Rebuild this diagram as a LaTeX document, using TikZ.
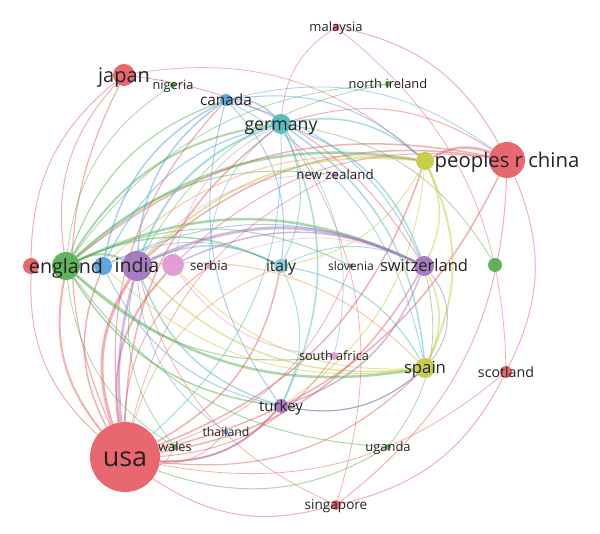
\documentclass[tikz,border=0pt]{standalone}
\usepackage{fontspec}
\setmainfont{Open Sans}
\usetikzlibrary{backgrounds}
\definecolor{vred}{RGB}{231,88,96}
\definecolor{vgreen}{RGB}{79,172,76}
\definecolor{vblue}{RGB}{79,155,218}
\definecolor{vcyan}{RGB}{77,184,186}
\definecolor{vlcyan}{RGB}{128,200,214}
\definecolor{vpurple}{RGB}{158,110,186}
\definecolor{vyellow}{RGB}{196,200,56}
\definecolor{vpink}{RGB}{222,148,208}
\definecolor{vorange}{RGB}{236,150,80}
\definecolor{vtext}{RGB}{35,35,35}
\newcommand\fs[1]{\fontsize{#1}{#1}\selectfont}

\begin{document}
\begin{tikzpicture}[
  x=1pt, y=1pt,
  dot/.style={circle, inner sep=0pt, minimum size=#1, fill opacity=0.9},
  lbl/.style={text=vtext, inner sep=0pt, anchor=base},
  lnk/.style={bend left=25, draw opacity=0.48}
]
  \useasboundingbox (0,0) rectangle (600,534);

  % items
  \node[dot=70pt, fill=vred]     (usa)         at (125,77)  {};
  \node[dot=22pt, fill=vred]     (japan)       at (124,459) {};
  \node[dot=6pt,  fill=vgreen]   (nigeria)     at (173,449) {};
  \node[dot=12pt, fill=vblue]    (canada)      at (226,434) {};
  \node[dot=20pt, fill=vcyan]    (germany)     at (281,410) {};
  \node[dot=7pt,  fill=vred]     (malaysia)    at (336,507) {};
  \node[dot=6pt,  fill=vgreen]   (nireland)    at (388,450) {};
  \node[dot=18pt, fill=vyellow]  (chinay)      at (425,373) {};
  \node[dot=36pt, fill=vred]     (china)       at (507,374) {};
  \node[dot=7pt,  fill=vpink]    (newzealand)  at (335,359) {};
  \node[dot=16pt, fill=vred]     (redl)        at (31,268)  {};
  \node[dot=28pt, fill=vgreen]   (england)     at (66,268)  {};
  \node[dot=18pt, fill=vblue]    (bluee)       at (103,268) {};
  \node[dot=30pt, fill=vpurple]  (india)       at (137,268) {};
  \node[dot=22pt, fill=vpink]    (pinki)       at (173,269) {};
  \node[dot=6pt,  fill=vpink]    (serbia)      at (209,268) {};
  \node[dot=14pt, fill=vlcyan]   (italy)       at (281,268) {};
  \node[dot=5pt,  fill=vpurple]  (slovenia)    at (351,268) {};
  \node[dot=20pt, fill=vpurple]  (switzerland) at (424,268) {};
  \node[dot=14pt, fill=vgreen]   (greenr)      at (495,269) {};
  \node[dot=8pt,  fill=vpink]    (southafrica) at (334,178) {};
  \node[dot=20pt, fill=vyellow]  (spain)       at (425,166) {};
  \node[dot=12pt, fill=vred]     (scotland)    at (506,162) {};
  \node[dot=14pt, fill=vpurple]  (turkey)      at (281,128) {};
  \node[dot=5pt,  fill=vblue]    (thailand)    at (226,102) {};
  \node[dot=6pt,  fill=vgreen]   (wales)       at (175,87)  {};
  \node[dot=6pt,  fill=vgreen]   (uganda)      at (388,87)  {};
  \node[dot=10pt, fill=vred]     (singapore)   at (336,29)  {};

  % links
  \begin{scope}[on background layer]
    \foreach \a/\b/\w in {usa/japan/1.2, usa/india/3, usa/england/2, usa/redl/1,
        usa/bluee/1.5, usa/pinki/2, usa/serbia/1, usa/germany/1.5, usa/canada/1.2,
        china/usa/1.5, chinay/usa/1.5, switzerland/usa/1.5, spain/usa/1.2,
        turkey/usa/2, thailand/usa/0.8, wales/usa/0.8, singapore/usa/1,
        scotland/usa/0.8, italy/usa/1.5, usa/newzealand/0.8, southafrica/usa/1,
        slovenia/usa/0.8, chinay/china/2.5, malaysia/china/1, china/singapore/1,
        china/scotland/1, england/china/1.5, india/china/1.5, germany/china/1,
        germany/malaysia/0.8, malaysia/scotland/0.8, scotland/singapore/1,
        singapore/india/0.8, germany/singapore/0.8, redl/japan/1,
        japan/switzerland/1, japan/chinay/0.8, england/japan/1, pinki/china/1}
      \draw[lnk, vred, line width=\w pt] (\a) to (\b);
    \foreach \a/\b/\w in {england/germany/2, england/canada/1.2, england/chinay/2.5,
        england/switzerland/2.5, spain/england/2.5, turkey/england/1.5,
        england/italy/1.5, england/india/2, england/nigeria/0.8, wales/england/0.8,
        uganda/england/1, england/newzealand/1, southafrica/england/1,
        england/nireland/0.8, india/nireland/0.8, germany/greenr/0.8,
        switzerland/uganda/0.8, uganda/usa/1, england/slovenia/1, wales/india/0.8}
      \draw[lnk, vgreen, line width=\w pt] (\a) to (\b);
    \foreach \a/\b/\w in {canada/germany/1.5, india/canada/1.5, canada/italy/1,
        turkey/canada/1, canada/switzerland/1, canada/chinay/1, canada/spain/0.8,
        canada/china/0.8, bluee/germany/1.2, bluee/switzerland/1, turkey/bluee/1,
        bluee/italy/0.8, thailand/india/0.8, bluee/canada/1.5}
      \draw[lnk, vblue, line width=\w pt] (\a) to (\b);
    \foreach \a/\b/\w in {india/germany/2, germany/turkey/1.5, germany/italy/1,
        germany/switzerland/1.5, germany/spain/1.5, germany/chinay/1.5,
        serbia/germany/0.8, germany/southafrica/0.8, italy/turkey/1,
        italy/spain/1.2, india/italy/1.5, italy/switzerland/1, turkey/india/1.5,
        spain/turkey/1.2, germany/usa/1}
      \draw[lnk, vcyan, line width=\w pt] (\a) to (\b);
    \foreach \a/\b/\w in {chinay/spain/2, chinay/switzerland/1.5, india/chinay/2,
        chinay/italy/1, chinay/turkey/1, switzerland/spain/1.5, spain/india/1.5,
        spain/pinki/1, spain/bluee/1}
      \draw[lnk, vyellow, line width=\w pt] (\a) to (\b);
    \foreach \a/\b/\w in {india/switzerland/3, switzerland/turkey/1.5,
        turkey/usa/1, spain/turkey/1, pinki/switzerland/1.5}
      \draw[lnk, vpurple, line width=\w pt] (\a) to (\b);
    \draw[lnk, vpurple, bend left=10, line width=2.5pt] (usa) to (india);
    \draw[lnk, vpurple, bend left=40, line width=1pt] (switzerland) to (spain);
    \foreach \a/\b/\w in {southafrica/pinki/1, pinki/germany/1,
        india/newzealand/0.8, serbia/switzerland/0.8}
      \draw[lnk, vpink, line width=\w pt] (\a) to (\b);
    \foreach \a/\b/\w in {india/spain/1, bluee/chinay/1, usa/italy/1}
      \draw[lnk, vorange, line width=\w pt] (\a) to (\b);
  \end{scope}

  % labels
  \node[lbl, font=\fs{27}]   (usa-t)         at ([yshift=-9.7]usa)        {usa};
  \node[lbl, font=\fs{20}]   (japan-t)       at ([yshift=-7.2]japan)      {japan};
  \node[lbl, font=\fs{12.8}] (nigeria-t)     at ([yshift=-4.6]nigeria)    {nigeria};
  \node[lbl, font=\fs{15.4}] (canada-t)      at ([yshift=-5.5]canada)     {canada};
  \node[lbl, font=\fs{17.7}] (germany-t)     at ([yshift=-6.4]germany)    {germany};
  \node[lbl, font=\fs{13}]   (malaysia-t)    at ([yshift=-4.7]malaysia)   {malaysia};
  \node[lbl, font=\fs{12.9}] (nireland-t)    at ([yshift=-4.6]nireland)   {north ireland};
  \node[lbl, font=\fs{20.3}] (china-t)       at ([yshift=-7.3]china)      {peoples r china};
  \node[lbl, font=\fs{13.3}] (newzealand-t)  at ([yshift=-4.8]newzealand) {new zealand};
  \node[lbl, font=\fs{19.7}] (england-t)     at ([yshift=-7.1]england)    {england};
  \node[lbl, font=\fs{19.5}] (india-t)       at ([yshift=-7.0]india)      {india};
  \node[lbl, font=\fs{13.2}] (serbia-t)      at ([yshift=-4.8]serbia)     {serbia};
  \node[lbl, font=\fs{15.6}] (italy-t)       at ([yshift=-5.6]italy)      {italy};
  \node[lbl, font=\fs{12}]   (slovenia-t)    at ([yshift=-4.3]slovenia)   {slovenia};
  \node[lbl, font=\fs{16.5}] (switzerland-t) at ([yshift=-5.9]switzerland) {switzerland};
  \node[lbl, font=\fs{12.7}] (southafrica-t) at ([yshift=-4.6]southafrica) {south africa};
  \node[lbl, font=\fs{16.7}] (spain-t)       at ([yshift=-6.0]spain)      {spain};
  \node[lbl, font=\fs{14.2}] (scotland-t)    at ([yshift=-5.1]scotland)   {scotland};
  \node[lbl, font=\fs{15}]   (turkey-t)      at ([yshift=-5.4]turkey)     {turkey};
  \node[lbl, font=\fs{12.3}] (thailand-t)    at ([yshift=-4.4]thailand)   {thailand};
  \node[lbl, font=\fs{12.7}] (wales-t)       at ([yshift=-4.6]wales)      {wales};
  \node[lbl, font=\fs{12.9}] (uganda-t)      at ([yshift=-4.6]uganda)     {uganda};
  \node[lbl, font=\fs{13.6}] (singapore-t)   at ([yshift=-4.9]singapore)  {singapore};
\end{tikzpicture}
\end{document}
